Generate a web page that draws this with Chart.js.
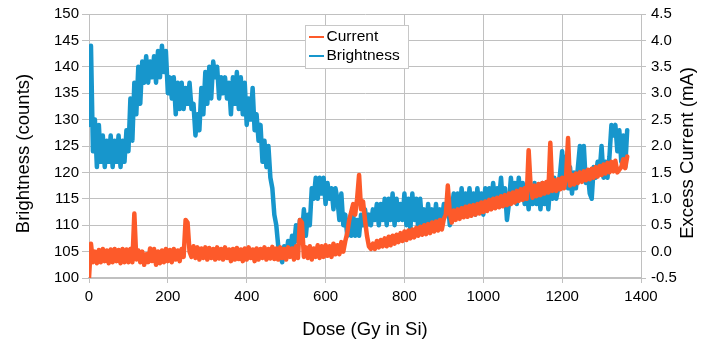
<!DOCTYPE html>
<html>
<head>
<meta charset="utf-8">
<script src="https://cdn.jsdelivr.net/npm/chart.js@4.4.1/dist/chart.umd.min.js"></script>
<style>
  html, body { margin: 0; padding: 0; background: #ffffff; }
  #caixa { position: relative; width: 708px; height: 352px; }
</style>
</head>
<body>
<div id="caixa"><canvas id="grafico"></canvas></div>
<script>
// Dose (Gy in Si)
const doses = [
  0, 5, 10, 15, 20, 25, 30, 35, 40, 45, 50, 55, 60, 65, 70, 75, 80, 85, 90, 95,
  100, 105, 110, 115, 120, 125, 130, 135, 140, 145, 150, 155, 160, 165, 170, 175, 180, 185, 190, 195,
  200, 205, 210, 215, 220, 225, 230, 235, 240, 245, 250, 255, 260, 265, 270, 275, 280, 285, 290, 295,
  300, 305, 310, 315, 320, 325, 330, 335, 340, 345, 350, 355, 360, 365, 370, 375, 380, 385, 390, 395,
  400, 405, 410, 415, 420, 425, 430, 435, 440, 445, 450, 455, 460, 465, 470, 475, 480, 485, 490, 495,
  500, 505, 510, 515, 520, 525, 530, 535, 540, 545, 550, 555, 560, 565, 570, 575, 580, 585, 590, 595,
  600, 605, 610, 615, 620, 625, 630, 635, 640, 645, 650, 655, 660, 665, 670, 675, 680, 685, 690, 695,
  700, 705, 710, 715, 720, 725, 730, 735, 740, 745, 750, 755, 760, 765, 770, 775, 780, 785, 790, 795,
  800, 805, 810, 815, 820, 825, 830, 835, 840, 845, 850, 855, 860, 865, 870, 875, 880, 885, 890, 895,
  900, 905, 910, 915, 920, 925, 930, 935, 940, 945, 950, 955, 960, 965, 970, 975, 980, 985, 990, 995,
  1000, 1005, 1010, 1015, 1020, 1025, 1030, 1035, 1040, 1045, 1050, 1055, 1060, 1065, 1070, 1075, 1080, 1085, 1090, 1095,
  1100, 1105, 1110, 1115, 1120, 1125, 1130, 1135, 1140, 1145, 1150, 1155, 1160, 1165, 1170, 1175, 1180, 1185, 1190, 1195,
  1200, 1205, 1210, 1215, 1220, 1225, 1230, 1235, 1240, 1245, 1250, 1255, 1260, 1265, 1270, 1275, 1280, 1285, 1290, 1295,
  1300, 1305, 1310, 1315, 1320, 1325, 1330, 1335, 1340, 1345, 1350, 1355, 1360, 1365
];

// Brightness (counts) - eixo esquerdo
const brightness = [
  129, 144, 124, 130, 121, 129, 122, 127, 121, 126, 122, 127, 121, 126, 122, 127, 121, 126, 122, 128,
  124, 134, 126, 137, 131, 140, 133, 141, 137, 142, 137, 141, 138, 142, 137, 143, 138, 144, 139, 143,
  135, 138, 134, 138, 131, 137, 132, 137, 132, 136, 133, 137, 132, 133, 127, 131, 128, 136, 131, 139,
  133, 140, 134, 141, 138, 140, 134, 138, 135, 138, 134, 137, 131, 138, 133, 139, 132, 138, 131, 137,
  129, 134, 130, 136, 128, 131, 126, 129, 122, 126, 121, 125, 119, 117, 112, 110, 106, 104, 103, 106,
  104, 107, 105, 108, 106, 110, 107, 111, 108, 113, 108, 112, 110, 117, 115, 119, 115, 119, 116, 119,
  114, 118, 115, 117, 113, 117, 115, 111, 116, 110, 112, 108, 111, 108, 112, 108, 111, 108, 112, 110,
  113, 110, 112, 110, 113, 111, 114, 110, 114, 111, 115, 110, 115, 111, 116, 110, 115, 111, 114, 111,
  116, 110, 115, 109, 116, 111, 115, 109, 115, 110, 113, 109, 114, 110, 113, 109, 114, 110, 113, 111,
  114, 112, 115, 110, 113, 116, 112, 116, 112, 117, 113, 116, 112, 117, 113, 116, 112, 117, 113, 116,
  112, 117, 114, 117, 114, 118, 114, 117, 115, 119, 114, 117, 111, 114, 119, 115, 118, 114, 119, 115,
  118, 114, 117, 113, 117, 114, 118, 114, 117, 113, 118, 114, 117, 113, 118, 115, 119, 115, 117, 120,
  124, 118, 123, 117, 121, 116, 120, 117, 121, 125, 119, 125, 118, 120, 116, 115, 121, 119, 122, 120,
  125, 119, 122, 119, 123, 129, 127, 129, 124, 128, 122, 127, 121, 128
];

// Excess Current (mA) - eixo direito
const current = [
  -0.5, 0.15, -0.2, 0.0, -0.22, 0.03, -0.2, 0.05, -0.18, 0.02, -0.22, 0.04, -0.2, 0.05, -0.18, 0.03, -0.22, 0.05, -0.2, 0.04,
  -0.2, 0.05, -0.2, 0.72, -0.15, 0.02, -0.2, 0.0, -0.25, -0.05, -0.2, 0.06, -0.18, 0.05, -0.25, 0.0, -0.22, 0.02, -0.2, 0.05,
  -0.18, 0.03, -0.2, 0.05, -0.15, 0.02, -0.18, 0.05, -0.1, 0.6, 0.55, 0.0, -0.1, 0.1, -0.12, 0.08, -0.15, 0.06, -0.12, 0.08,
  -0.15, 0.07, -0.12, 0.05, -0.15, 0.08, -0.13, 0.05, -0.15, 0.08, -0.12, 0.04, -0.18, 0.05, -0.15, 0.07, -0.14, 0.04, -0.18, 0.06,
  -0.15, 0.08, -0.12, 0.04, -0.18, 0.06, -0.15, 0.05, -0.12, 0.08, -0.15, 0.05, -0.13, 0.09, -0.14, 0.06, -0.15, 0.08, -0.12, 0.05,
  -0.15, 0.08, -0.1, 0.06, -0.15, 0.1, -0.12, 0.6, 0.55, -0.1, 0.08, -0.12, 0.1, -0.15, 0.06, -0.1, 0.12, -0.12, 0.1, -0.1,
  0.12, -0.08, 0.1, -0.1, 0.15, -0.05, 0.12, -0.05, 0.18, 0.0, 0.2, 0.35, 0.6, 0.75, 0.9, 0.7, 1.0, 1.45, 0.8, 0.95,
  0.6, 0.3, 0.1, 0.05, 0.15, 0.05, 0.2, 0.08, 0.22, 0.1, 0.25, 0.1, 0.28, 0.12, 0.3, 0.15, 0.32, 0.18, 0.35, 0.2,
  0.38, 0.22, 0.4, 0.25, 0.42, 0.27, 0.45, 0.3, 0.47, 0.32, 0.5, 0.33, 0.52, 0.35, 0.55, 0.38, 0.57, 0.4, 0.6, 0.42,
  0.62, 0.7, 1.25, 0.75, 0.55, 0.78, 0.6, 0.8, 0.62, 0.82, 0.65, 0.85, 0.66, 0.87, 0.68, 0.88, 0.7, 0.9, 0.72, 0.93,
  0.75, 0.95, 0.77, 0.98, 0.8, 1.0, 0.82, 1.02, 0.84, 1.05, 0.86, 1.07, 0.88, 1.1, 0.9, 1.12, 0.93, 1.15, 0.96, 1.18,
  0.98, 1.2, 1.0, 1.92, 1.25, 1.02, 1.25, 1.05, 1.28, 1.07, 1.3, 1.1, 1.32, 1.12, 2.06, 1.15, 1.35, 1.15, 1.37, 1.18,
  1.4, 1.2, 1.42, 2.15, 1.25, 1.45, 1.27, 1.48, 1.3, 1.5, 1.32, 1.52, 1.35, 1.55, 1.37, 1.57, 1.4, 1.6, 1.42, 1.62,
  1.45, 1.65, 1.48, 1.68, 1.5, 1.7, 1.52, 1.72, 1.5, 1.55, 1.6, 1.75, 1.58, 1.8
];

const corCorrente = '#fd5a2a';
const corBrilho = '#1796cc';
const corGrade = '#c0c0c0';
const fonte = '"Liberation Sans", Arial, Helvetica, sans-serif';

Chart.defaults.font.family = fonte;
Chart.defaults.color = '#000000';

// legenda com caixa e titulos verticais
const extras = {
  id: 'extras',
  afterDraw(chart) {
    const ctx = chart.ctx;
    ctx.save();
    ctx.fillStyle = '#ffffff';
    ctx.fillRect(305.5, 25.5, 103, 43);
    ctx.strokeStyle = '#c8c8c8';
    ctx.lineWidth = 1;
    ctx.strokeRect(305.5, 25.5, 103, 43);

    ctx.lineWidth = 2;
    ctx.strokeStyle = corCorrente;
    ctx.beginPath(); ctx.moveTo(309, 37); ctx.lineTo(324, 37); ctx.stroke();
    ctx.strokeStyle = corBrilho;
    ctx.beginPath(); ctx.moveTo(309, 56); ctx.lineTo(324, 56); ctx.stroke();

    ctx.fillStyle = '#000000';
    ctx.font = '15.5px ' + fonte;
    ctx.textBaseline = 'middle';
    ctx.textAlign = 'left';
    ctx.fillText('Current', 326.5, 37);
    ctx.fillText('Brightness', 326.5, 56);

    ctx.font = '18.5px ' + fonte;
    ctx.textAlign = 'center';
    ctx.translate(24, 153.5);
    ctx.rotate(-Math.PI / 2);
    ctx.fillText('Brightness (counts)', 0, 0);
    ctx.setTransform(1, 0, 0, 1, 0, 0);
    ctx.translate(688, 153);
    ctx.rotate(-Math.PI / 2);
    ctx.fillText('Excess Current (mA)', 0, 0);
    ctx.restore();
  }
};

const grafico = new Chart(document.getElementById('grafico'), {
  type: 'line',
  data: {
    datasets: [
      {
        label: 'Current',
        data: doses.map((d, i) => ({ x: d, y: current[i] })),
        yAxisID: 'y1',
        borderColor: corCorrente,
        backgroundColor: corCorrente,
        borderWidth: 4.5,
        borderJoinStyle: 'round',
        borderCapStyle: 'round',
        pointRadius: 0,
        tension: 0,
        order: 0
      },
      {
        label: 'Brightness',
        data: doses.map((d, i) => ({ x: d, y: brightness[i] })),
        yAxisID: 'y',
        borderColor: corBrilho,
        backgroundColor: corBrilho,
        borderWidth: 4.5,
        borderJoinStyle: 'round',
        borderCapStyle: 'round',
        pointRadius: 0,
        tension: 0,
        order: 1
      }
    ]
  },
  options: {
    responsive: true,
    maintainAspectRatio: false,
    animation: false,
    layout: { padding: { top: 14, right: 0, bottom: 0, left: 0 } },
    scales: {
      x: {
        type: 'linear',
        min: 0,
        max: 1400,
        afterFit(s) { s.height = 74; },
        ticks: { stepSize: 200, font: { size: 15 }, color: '#000', padding: 5, maxRotation: 0, callback: v => String(v) },
        grid: { color: corGrade, tickLength: 5 },
        border: { color: corGrade, width: 2 },
        title: { display: true, text: 'Dose (Gy in Si)', font: { size: 18.5 }, color: '#000', padding: { top: 0, bottom: 11 } }
      },
      y: {
        position: 'left',
        min: 100,
        max: 150,
        afterFit(s) { s.width = 89; },
        ticks: { stepSize: 5, font: { size: 15 }, color: '#000', padding: 3 },
        grid: { color: corGrade, tickLength: 7 },
        border: { color: corGrade }
      },
      y1: {
        position: 'right',
        min: -0.5,
        max: 4.5,
        afterFit(s) { s.width = 67; },
        ticks: { stepSize: 0.5, font: { size: 15 }, color: '#000', padding: 5, callback: v => v.toFixed(1) },
        grid: { drawOnChartArea: false, color: corGrade, tickLength: 5 },
        border: { color: corGrade }
      }
    },
    plugins: {
      legend: { display: false },
      tooltip: { enabled: false }
    }
  },
  plugins: [extras]
});
</script>
</body>
</html>
